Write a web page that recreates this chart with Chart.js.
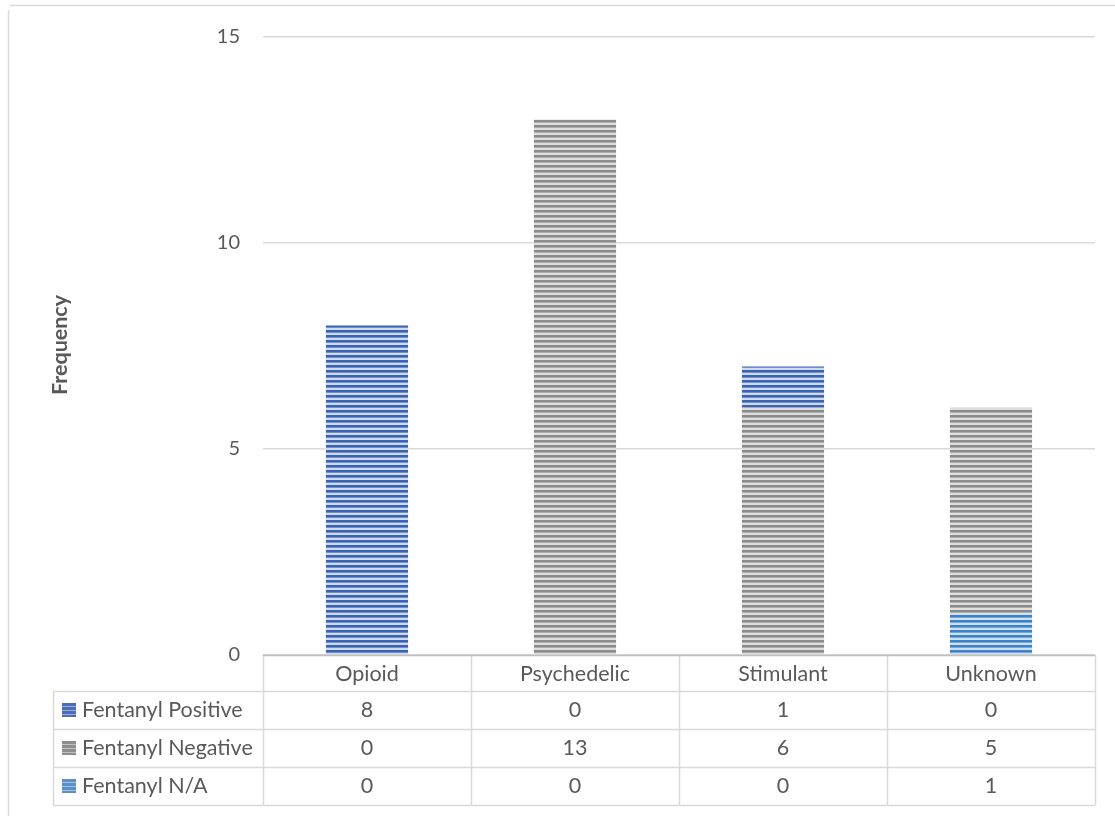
<!DOCTYPE html>
<html lang="en">
<head>
  <meta charset="UTF-8">
  <title>Frequency by drug class</title>
  <script src="https://cdn.jsdelivr.net/npm/chart.js"></script>
  <style>
    html, body { margin: 0; padding: 0; background: #fff; }
    #wrap { width: 1115px; height: 816px; }
  </style>
</head>
<body>
  <div id="wrap"><canvas id="freqChart" width="1115" height="816"></canvas></div>

  <script>
    const categories = ['Opioid', 'Psychedelic', 'Stimulant', 'Unknown'];
    const seriesNames = ['Fentanyl Positive', 'Fentanyl Negative', 'Fentanyl N/A'];
    const positive = [8, 0, 1, 0];
    const negative = [0, 13, 6, 5];
    const notAvailable = [0, 0, 0, 1];
    const yTicks = [0, 5, 10, 15];

    const FONT = 'Lato, "Open Sans", sans-serif';
    const TEXT = '#595959';
    const LINE = '#d9d9d9';

    const canvas = document.getElementById('freqChart');
    const ctx = canvas.getContext('2d');

    // horizontal stripe fill like the Excel pattern
    function stripes(dark, mid, light) {
      const c = document.createElement('canvas');
      c.width = 8; c.height = 5;
      const g = c.getContext('2d');
      g.fillStyle = light; g.fillRect(0, 0, 8, 5);
      g.fillStyle = dark; g.fillRect(0, 0, 8, 2);
      g.fillStyle = mid; g.fillRect(0, 2, 8, 1);
      return ctx.createPattern(c, 'repeat');
    }

    const fills = [
      stripes('#3a63b0', '#6f8fcc', '#cfdaf0'),
      stripes('#8a8a8a', '#acacac', '#dedede'),
      stripes('#3f82c4', '#72a6d8', '#cde0f2')
    ];
    const keyFills = ['#4a6db5', '#8e8e8e', '#5b8fc6'];
    const seriesData = [positive, negative, notAvailable];

    // data table under the plot, plus the outer frame
    const tablePlugin = {
      id: 'dataTable',
      afterDraw(chart) {
        const c = chart.ctx;
        const area = chart.chartArea;
        const x = chart.scales.x;
        const colW = (area.right - area.left) / categories.length;
        const top = area.bottom;
        const headH = 36, rowH = 38;
        const legendLeft = 53;
        const bottom = top + headH + rowH * seriesNames.length;

        c.save();
        // outer frame
        c.strokeStyle = LINE;
        c.lineWidth = 1.5;
        c.beginPath();
        c.moveTo(10, 5.5); c.lineTo(1115, 5.5);
        c.moveTo(8.5, 10); c.lineTo(8.5, 816);
        c.stroke();

        c.beginPath();
        // vertical column lines
        for (let i = 0; i <= categories.length; i++) {
          const lx = Math.round(area.left + i * colW) + 0.5;
          c.moveTo(lx, top); c.lineTo(lx, bottom);
        }
        c.moveTo(legendLeft + 0.5, top + headH); c.lineTo(legendLeft + 0.5, bottom);
        // horizontal row lines
        for (let r = 0; r <= seriesNames.length; r++) {
          const ly = Math.round(top + headH + r * rowH) + 0.5;
          c.moveTo(legendLeft, ly); c.lineTo(area.right, ly);
        }
        c.stroke();

        // axis line at zero
        c.strokeStyle = '#bfbfbf';
        c.beginPath();
        c.moveTo(area.left, top + 0.5); c.lineTo(area.right, top + 0.5);
        c.stroke();

        c.fillStyle = TEXT;
        c.font = '21.5px ' + FONT;
        c.textBaseline = 'middle';
        c.textAlign = 'center';
        categories.forEach((cat, i) => {
          c.fillText(cat, x.getPixelForValue(i), top + headH / 2 + 1);
        });
        seriesNames.forEach((name, r) => {
          const cy = top + headH + r * rowH + rowH / 2;
          c.textAlign = 'center';
          seriesData[r].forEach((v, i) => c.fillText(String(v), x.getPixelForValue(i), cy));
          // legend key
          c.fillStyle = keyFills[r];
          c.fillRect(62, cy - 7, 14, 14);
          c.fillStyle = 'rgba(255,255,255,0.45)';
          for (let s = 0; s < 3; s++) c.fillRect(62, cy - 7 + 3 + s * 4, 14, 1);
          c.fillStyle = TEXT;
          c.textAlign = 'left';
          c.fillText(name, 82, cy);
        });

        // axis title
        c.translate(60, 345);
        c.rotate(-Math.PI / 2);
        c.textAlign = 'center';
        c.font = 'bold 21.5px ' + FONT;
        c.fillText('Frequency', 0, 0);
        c.restore();
      }
    };

    new Chart(ctx, {
      type: 'bar',
      data: {
        labels: categories,
        datasets: [
          { label: seriesNames[0], data: positive, backgroundColor: fills[0], order: 2 },
          { label: seriesNames[1], data: negative, backgroundColor: fills[1], order: 1 },
          { label: seriesNames[2], data: notAvailable, backgroundColor: fills[2], order: 0 }
        ]
      },
      options: {
        responsive: false,
        animation: false,
        layout: { padding: { left: 40, right: 20, top: 37, bottom: 161 } },
        datasets: { bar: { categoryPercentage: 1, barPercentage: 0.395, borderWidth: 0 } },
        plugins: { legend: { display: false }, tooltip: { enabled: false } },
        scales: {
          x: { stacked: true, display: false },
          y: {
            stacked: true,
            min: 0,
            max: 15,
            afterBuildTicks(scale) { scale.ticks = yTicks.map(v => ({ value: v })); },
            afterFit(scale) { scale.width = 223; },
            border: { display: false },
            grid: { color: LINE, lineWidth: 1.5, drawTicks: false },
            ticks: { color: TEXT, padding: 23, font: { family: FONT, size: 20 } }
          }
        }
      },
      plugins: [tablePlugin]
    });
  </script>
</body>
</html>
